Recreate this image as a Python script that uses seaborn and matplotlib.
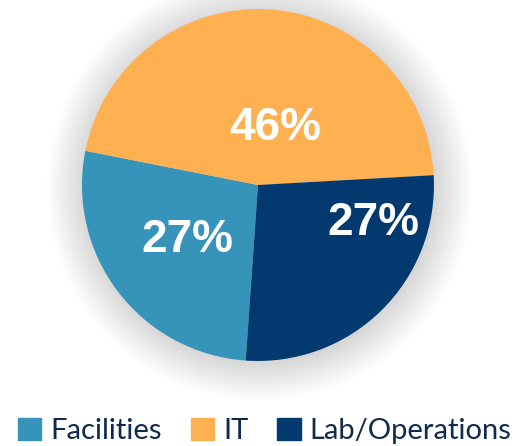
import matplotlib.pyplot as plt
import matplotlib.patches as mpatches
import seaborn as sns
import numpy as np

categories = ['Facilities', 'IT', 'Lab/Operations']
shares = [27, 46, 27]
pct_labels = ['27%', '46%', '27%']
colors = ['#3694BA', '#FFB050', '#023A70']

sns.set_theme(style='white')
plt.rcParams['font.family'] = ['Liberation Sans', 'DejaVu Sans']

fig = plt.figure(figsize=(5.14, 4.46), dpi=100)
ax = fig.add_axes([0.1595, 0.1906, 0.6848, 0.7892])

# soft shadow around the pie
for k in range(20):
    ax.add_patch(mpatches.Circle((0.01, -0.015), 1.0 + 0.011 * k, color='#000000',
                                 alpha=0.007, lw=0, zorder=0, clip_on=False))

wedges, _ = ax.pie(shares, colors=colors, startangle=266, counterclock=False,
                   wedgeprops=dict(linewidth=0), radius=1.0)
for w in wedges:
    w.set_zorder(2)

# label placement: radial distance and angle (deg) per slice
label_r = [0.51, 0.34, 0.69]
label_ang = [218, 73, -18]
for txt, r, a in zip(pct_labels, label_r, label_ang):
    ax.text(r * np.cos(np.radians(a)), r * np.sin(np.radians(a)), txt,
            ha='center', va='center', color='white', fontsize=33,
            fontweight='bold', zorder=3)

ax.set_xlim(-1, 1)
ax.set_ylim(-1, 1)
ax.set_aspect('equal')
ax.axis('off')

handles = [mpatches.Patch(color=c, label=l) for c, l in zip(colors, categories)]
leg = fig.legend(handles=handles, loc='center', bbox_to_anchor=(0.515, 1 - 431 / 446),
                 ncol=3, frameon=False, handlelength=0.8, handleheight=0.8,
                 handletextpad=0.3, columnspacing=1.0,
                 prop={'family': 'Lato', 'size': 21})
for t in leg.get_texts():
    t.set_color('#0E2A4C')

fig.savefig('out.png', dpi=100, facecolor='white')
